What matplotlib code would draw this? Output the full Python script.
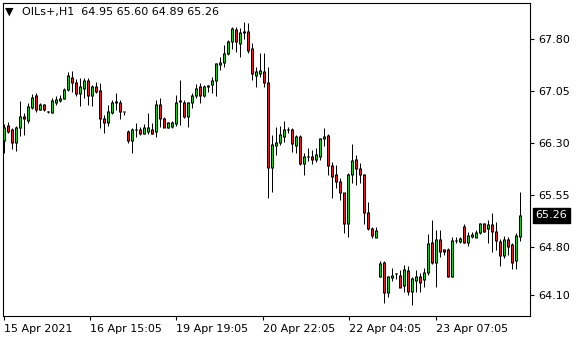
import numpy as np
import matplotlib
matplotlib.use('Agg')
import matplotlib.pyplot as plt
from matplotlib import transforms

symbol = 'OILs+,H1'

# hourly bars, left to right
opens = [66.33, 66.56, 66.49, 66.31, 66.52, 66.68, 66.62, 66.82, 66.99, 66.79,
         66.85, 66.75, 66.74, 66.88, 66.91, 66.95, 67.08, 67.24, 67.17, 67.02,
         67.09, 67.21, 66.98, 67.12, 67.06, 66.65, 66.59, 66.74, 66.88, 66.89,
         66.75, 66.46, 66.34, 66.49, 66.50, 66.44, 66.46, 66.49, 66.46, 66.85,
         66.65, 66.53, 66.54, 66.58, 66.90, 66.89, 66.68, 66.88, 66.98, 67.11,
         66.99, 67.12, 67.14, 67.21, 67.44, 67.46, 67.60, 67.77, 67.94, 67.74,
         67.89, 67.91, 67.66, 67.27, 67.31, 67.34, 67.17, 65.95, 66.27, 66.31,
         66.40, 66.50, 66.49, 66.26, 66.39, 66.00, 66.10, 66.11, 66.07, 66.11,
         66.36, 66.41, 65.98, 65.84, 65.75, 65.58, 65.14, 65.84, 66.07, 65.94,
         65.84, 65.30, 65.06, 64.94, 64.38, 64.57, 64.14, 64.36, 64.41, 64.39,
         64.24, 64.46, 64.15, 64.32, 64.37, 64.33, 64.43, 64.86, 64.58, 64.91,
         64.76, 64.77, 64.38, 64.89, 64.88, 65.09, 64.86, 64.95, 64.94, 65.01,
         65.14, 65.06, 65.12, 65.02, 64.88, 64.68, 64.91, 64.83, 64.61, 64.95]
highs = [66.57, 66.60, 66.52, 66.55, 66.91, 66.73, 66.88, 67.01, 67.02, 66.88,
         66.86, 66.77, 66.95, 66.98, 66.99, 67.09, 67.32, 67.34, 67.22, 67.24,
         67.24, 67.24, 67.14, 67.18, 67.17, 66.70, 66.85, 66.92, 67.02, 66.92,
         66.75, 66.49, 66.52, 66.59, 66.53, 66.57, 66.73, 66.59, 66.92, 66.95,
         66.68, 66.60, 66.62, 66.99, 67.21, 66.92, 66.89, 67.02, 67.15, 67.17,
         67.14, 67.14, 67.25, 67.46, 67.54, 67.71, 67.79, 67.97, 67.97, 67.96,
         68.05, 68.03, 67.75, 67.40, 67.60, 67.60, 67.40, 66.41, 66.53, 66.55,
         66.62, 66.53, 66.52, 66.41, 66.41, 66.15, 66.23, 66.20, 66.23, 66.37,
         66.52, 66.43, 66.03, 65.98, 65.79, 65.58, 65.87, 66.28, 66.13, 66.01,
         65.85, 65.45, 65.09, 65.09, 64.59, 64.59, 64.38, 64.49, 64.43, 64.47,
         64.54, 64.53, 64.37, 64.47, 64.43, 64.49, 64.99, 65.19, 65.04, 65.04,
         64.77, 64.79, 64.94, 64.94, 64.95, 65.13, 65.02, 65.02, 65.04, 65.15,
         65.15, 65.19, 65.29, 65.16, 64.91, 64.96, 64.94, 64.86, 65.00, 65.60]
lows = [66.16, 66.44, 66.21, 66.18, 66.40, 66.42, 66.59, 66.79, 66.75, 66.78,
        66.77, 66.74, 66.73, 66.85, 66.89, 66.93, 67.05, 67.04, 66.98, 66.83,
        66.95, 66.85, 66.83, 67.02, 66.52, 66.44, 66.54, 66.72, 66.78, 66.65,
        66.70, 66.30, 66.16, 66.39, 66.42, 66.43, 66.43, 66.43, 66.39, 66.53,
        66.53, 66.52, 66.52, 66.55, 66.56, 66.66, 66.53, 66.81, 66.95, 66.88,
        66.96, 67.04, 67.02, 66.98, 67.35, 67.40, 67.57, 67.66, 67.61, 67.54,
        67.81, 67.60, 67.21, 67.11, 67.25, 67.11, 65.51, 65.59, 66.13, 66.27,
        66.31, 66.44, 66.17, 66.16, 65.98, 65.84, 66.04, 66.00, 66.03, 66.05,
        66.26, 65.84, 65.51, 65.65, 65.48, 65.00, 64.94, 65.72, 65.69, 65.72,
        65.13, 65.04, 64.93, 64.94, 64.37, 63.99, 64.08, 64.31, 64.34, 64.22,
        64.15, 64.11, 63.96, 64.15, 64.15, 64.22, 64.39, 64.55, 64.22, 64.66,
        64.68, 64.37, 64.37, 64.86, 64.86, 64.86, 64.81, 64.93, 64.94, 64.99,
        65.02, 64.86, 64.73, 64.76, 64.53, 64.64, 64.68, 64.48, 64.48, 64.89]
closes = [66.53, 66.47, 66.31, 66.52, 66.68, 66.65, 66.83, 66.96, 66.78, 66.86,
          66.79, 66.76, 66.92, 66.93, 66.94, 67.08, 67.28, 67.17, 67.02, 67.11,
          67.21, 66.98, 67.11, 67.05, 66.65, 66.59, 66.75, 66.88, 66.90, 66.75,
          66.75, 66.33, 66.50, 66.50, 66.44, 66.52, 66.53, 66.44, 66.85, 66.66,
          66.53, 66.59, 66.59, 66.89, 66.91, 66.68, 66.88, 66.98, 67.09, 66.99,
          67.11, 67.13, 67.21, 67.45, 67.47, 67.60, 67.77, 67.96, 67.76, 67.89,
          67.91, 67.63, 67.30, 67.33, 67.35, 67.17, 65.95, 66.28, 66.31, 66.43,
          66.49, 66.50, 66.30, 66.39, 66.00, 66.11, 66.11, 66.07, 66.13, 66.36,
          66.40, 65.98, 65.82, 65.74, 65.58, 65.14, 65.84, 66.05, 65.94, 65.84,
          65.30, 65.06, 64.96, 65.04, 64.56, 64.14, 64.37, 64.39, 64.41, 64.22,
          64.47, 64.15, 64.34, 64.37, 64.29, 64.43, 64.85, 64.58, 64.91, 64.73,
          64.74, 64.38, 64.90, 64.90, 64.92, 64.86, 64.96, 64.98, 65.01, 65.14,
          65.03, 65.12, 65.02, 64.89, 64.68, 64.91, 64.81, 64.58, 64.97, 65.26]

time_labels = ['15 Apr 2021', '16 Apr 15:05', '19 Apr 19:05', '20 Apr 22:05',
               '22 Apr 04:05', '23 Apr 07:05']
time_label_bars = [0, 21.5, 43.2, 64.85, 86.35, 108]
price_ticks = [64.10, 64.80, 65.55, 66.30, 67.05, 67.80]

plt.rcParams['font.family'] = 'DejaVu Sans'
plt.rcParams['font.size'] = 8

bull = '#1ec81e'
bear = '#e01e1e'

fig = plt.figure(figsize=(5.8, 3.4), dpi=100)
ax = fig.add_axes([3 / 580, 24.5 / 340, 527 / 580, 313 / 340])

ymin, ymax = 63.81, 68.33
ax.set_xlim(-0.125, 131.625)   # 4 px per bar
ax.set_ylim(ymin, ymax)
px = (ymax - ymin) / 313       # one pixel in price units

x = np.arange(len(opens))
o = np.array(opens)
c = np.array(closes)
bot = np.minimum(o, c)
top = np.maximum(o, c)
up = c >= o

# wick, black body frame (3 px), coloured core (1 px)
ax.vlines(x, lows, highs, color='black', linewidth=0.72, zorder=1)
frame = ax.vlines(x, bot - px / 2, top + px / 2, color='black', linewidth=2.16, zorder=2)
frame.set_capstyle('butt')
inner = (top - bot) > px
ax.vlines(x[inner & up], bot[inner & up] + px / 2, top[inner & up] - px / 2,
          color=bull, linewidth=0.72, zorder=3)
ax.vlines(x[inner & ~up], bot[inner & ~up] + px / 2, top[inner & ~up] - px / 2,
          color=bear, linewidth=0.72, zorder=3)

ax.yaxis.tick_right()
ax.set_yticks(price_ticks)
ax.set_yticklabels(['%.2f' % p for p in price_ticks])
ax.tick_params(axis='y', length=3, width=0.8, pad=3, colors='black')
ax.set_xticks(time_label_bars)
ax.set_xticklabels(time_labels, ha='left')
ax.tick_params(axis='x', length=3, width=0.8, pad=3, colors='black')
for s in ax.spines.values():
    s.set_linewidth(0.8)
    s.set_color('black')

# current price marker
trans = transforms.blended_transform_factory(ax.transAxes, ax.transData)
ax.text(1.0105, closes[-1], '%.2f' % closes[-1], transform=trans, color='white',
        ha='left', va='center',
        bbox=dict(boxstyle='square,pad=0.22', fc='black', ec='black'))

# header line
fig.text(5 / 580, 1 - 11.5 / 340, '\u25bc', fontsize=8, va='center', ha='left')
fig.text(22 / 580, 1 - 12 / 340,
         '%s  %.2f %.2f %.2f %.2f' % (symbol, opens[-1], highs[-1], lows[-1], closes[-1]),
         va='center', ha='left')

fig.savefig('out.png', dpi=100)
